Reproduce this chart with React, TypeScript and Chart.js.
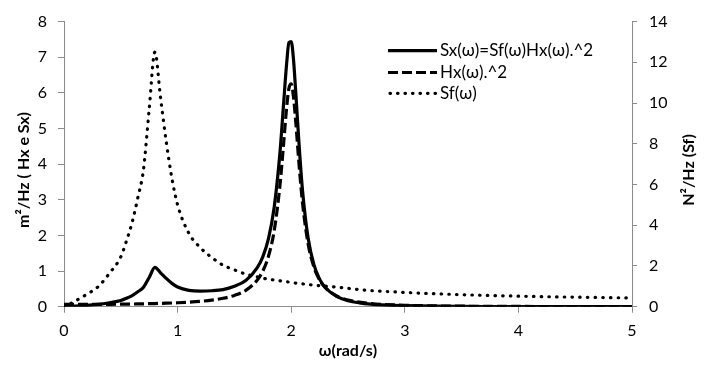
import React, { useEffect, useRef } from "react";
import { Chart, registerables } from "chart.js";

Chart.register(...registerables);

const FONT = "Lato, 'Open Sans', 'DejaVu Sans', sans-serif";

const omega = [
  0, 0.1, 0.2, 0.3, 0.4, 0.5, 0.55, 0.6, 0.65, 0.7, 0.75, 0.8, 0.85, 0.9, 0.95,
  1.0, 1.1, 1.2, 1.3, 1.4, 1.5, 1.6, 1.7, 1.75, 1.8, 1.85, 1.9, 1.93, 1.96, 1.98,
  2.0, 2.02, 2.04, 2.07, 2.1, 2.15, 2.2, 2.25, 2.3, 2.4, 2.5, 2.6, 2.7, 2.8, 3.0,
  3.25, 3.5, 3.75, 4.0, 4.25, 4.5, 4.75, 5.0,
];

const sxValues = [
  0, 0.018, 0.039, 0.064, 0.111, 0.174, 0.236, 0.313, 0.418, 0.548, 0.821, 1.105,
  0.952, 0.793, 0.655, 0.553, 0.46, 0.439, 0.448, 0.481, 0.574, 0.735, 1.091,
  1.398, 1.909, 2.784, 4.285, 5.564, 6.826, 7.412, 7.44, 6.95, 6.02, 4.51, 3.25,
  1.904, 1.179, 0.774, 0.538, 0.288, 0.169, 0.107, 0.071, 0.05, 0.028, 0.0147,
  0.0086, 0.0054, 0.0036, 0.0025, 0.0018, 0.0013, 0.001,
];

const hx2Values = [
  0.0625, 0.0628, 0.0638, 0.0654, 0.0678, 0.0711, 0.0731, 0.0755, 0.0781, 0.0812,
  0.0846, 0.0884, 0.0929, 0.0979, 0.1039, 0.1106, 0.1277, 0.1513, 0.185, 0.2358,
  0.3172, 0.4595, 0.742, 0.9985, 1.414, 2.125, 3.374, 4.451, 5.595, 6.126, 6.25,
  5.89, 5.19, 3.96, 2.9, 1.747, 1.112, 0.751, 0.533, 0.3005, 0.1882, 0.1268, 0.09,
  0.0664, 0.0394, 0.023, 0.0146, 0.0099, 0.0069, 0.0051, 0.0038, 0.0029, 0.0023,
];

const sfValues = [
  0, 0.28, 0.61, 0.98, 1.64, 2.45, 3.23, 4.15, 5.35, 6.75, 9.7, 12.5, 10.25, 8.1,
  6.3, 5.0, 3.6, 2.9, 2.42, 2.04, 1.81, 1.6, 1.47, 1.4, 1.35, 1.31, 1.27, 1.25,
  1.22, 1.21, 1.19, 1.18, 1.16, 1.14, 1.12, 1.09, 1.06, 1.03, 1.01, 0.96, 0.9,
  0.84, 0.79, 0.76, 0.7, 0.64, 0.59, 0.55, 0.52, 0.49, 0.47, 0.45, 0.43,
];

const seriesLabels = ["Sx(ω)=Sf(ω)Hx(ω).^2", "Hx(ω).^2", "Sf(ω)"];
const xTitle = "ω(rad/s)";
const leftTitle = "m²/Hz ( Hx e Sx)";
const rightTitle = "N²/Hz (Sf)";

const AXIS_GRAY = "#8c8c8c";

const overlayPlugin = {
  id: "overlay",
  afterDraw(chart: any) {
    const ctx = chart.ctx;
    const area = chart.chartArea;
    ctx.save();
    // legend
    const rows = [50.7, 72.5, 93.3];
    const lineStart = area.right - 244;
    const lineEnd = area.right - 195;
    chart.data.datasets.forEach((ds: any, i: number) => {
      const y = rows[i];
      ctx.beginPath();
      ctx.lineWidth = ds.borderWidth;
      ctx.strokeStyle = ds.borderColor;
      ctx.setLineDash(i === 2 ? [0.5, 7] : ds.borderDash || []);
      ctx.lineCap = ds.borderCapStyle || "butt";
      ctx.moveTo(lineStart + (i === 2 ? 2 : 0), y);
      ctx.lineTo(lineEnd, y);
      ctx.stroke();
      ctx.setLineDash([]);
      ctx.fillStyle = "#000";
      ctx.font = `17px ${FONT}`;
      ctx.textBaseline = "middle";
      ctx.textAlign = "left";
      ctx.fillText(ds.label, lineEnd + 3, y);
    });
    // axis titles (both read bottom-to-top)
    ctx.font = `bold 16px ${FONT}`;
    ctx.fillStyle = "#000";
    ctx.textAlign = "center";
    ctx.textBaseline = "middle";
    const cy = 170;
    ctx.save();
    ctx.translate(24, cy);
    ctx.rotate(-Math.PI / 2);
    ctx.fillText(leftTitle, 0, 0);
    ctx.restore();
    ctx.save();
    ctx.translate(689, cy);
    ctx.rotate(-Math.PI / 2);
    ctx.fillText(rightTitle, 0, 0);
    ctx.restore();
    ctx.restore();
  },
};

export default function App() {
  const canvasRef = useRef<HTMLCanvasElement | null>(null);

  useEffect(() => {
    const canvas = canvasRef.current;
    if (!canvas) return;
    const toPts = (vals: number[]) => omega.map((x, i) => ({ x, y: vals[i] }));
    const chart = new Chart(canvas, {
      type: "line",
      data: {
        datasets: [
          {
            label: seriesLabels[0],
            data: toPts(sxValues),
            yAxisID: "y",
            borderColor: "#000",
            borderWidth: 3.2,
            borderDash: [],
            borderCapStyle: "butt",
            pointRadius: 0,
            cubicInterpolationMode: "monotone",
            fill: false,
          },
          {
            label: seriesLabels[1],
            data: toPts(hx2Values),
            yAxisID: "y",
            borderColor: "#000",
            borderWidth: 3.2,
            borderDash: [10, 4],
            borderCapStyle: "butt",
            pointRadius: 0,
            cubicInterpolationMode: "monotone",
            fill: false,
          },
          {
            label: seriesLabels[2],
            data: toPts(sfValues),
            yAxisID: "y1",
            borderColor: "#000",
            borderWidth: 3.2,
            borderDash: [0.5, 7.2],
            borderCapStyle: "round",
            pointRadius: 0,
            cubicInterpolationMode: "monotone",
            fill: false,
          },
        ],
      },
      options: {
        animation: false,
        responsive: false,
        maintainAspectRatio: false,
        layout: { padding: { top: 20.7, left: 0, right: 0, bottom: 0 } },
        plugins: {
          legend: { display: false },
          tooltip: { enabled: false },
        },
        scales: {
          x: {
            type: "linear",
            min: 0,
            max: 5,
            ticks: {
              stepSize: 1,
              color: "#000",
              font: { family: FONT, size: 16 },
              padding: 9,
              maxRotation: 0,
            },
            grid: {
              drawOnChartArea: false,
              drawTicks: true,
              tickLength: 6,
              color: AXIS_GRAY,
            },
            border: { color: AXIS_GRAY, width: 1 },
            title: {
              display: true,
              text: xTitle,
              color: "#000",
              font: { family: FONT, size: 16, weight: "bold" },
              padding: { top: 0, bottom: 5 },
            },
            afterFit: (s: any) => {
              s.height = 58.3;
            },
          },
          y: {
            type: "linear",
            position: "left",
            min: 0,
            max: 8,
            ticks: {
              stepSize: 1,
              color: "#000",
              font: { family: FONT, size: 16 },
              padding: 11,
            },
            grid: {
              drawOnChartArea: false,
              drawTicks: true,
              tickLength: 6,
              color: AXIS_GRAY,
            },
            border: { color: AXIS_GRAY, width: 1 },
            afterFit: (s: any) => {
              s.width = 64;
            },
          },
          y1: {
            type: "linear",
            position: "right",
            min: 0,
            max: 14,
            ticks: {
              stepSize: 2,
              color: "#000",
              font: { family: FONT, size: 16 },
              padding: 12,
            },
            grid: {
              drawOnChartArea: false,
              drawTicks: true,
              tickLength: 5,
              color: AXIS_GRAY,
            },
            border: { color: AXIS_GRAY, width: 1 },
            afterFit: (s: any) => {
              s.width = 72;
            },
          },
        },
      } as any,
      plugins: [overlayPlugin],
    });
    return () => chart.destroy();
  }, []);

  return (
    <div style={{ position: "absolute", left: 0, top: 0, width: 704, height: 365, background: "#fff" }}>
      <canvas ref={canvasRef} width={704} height={365} style={{ display: "block" }} />
    </div>
  );
}
